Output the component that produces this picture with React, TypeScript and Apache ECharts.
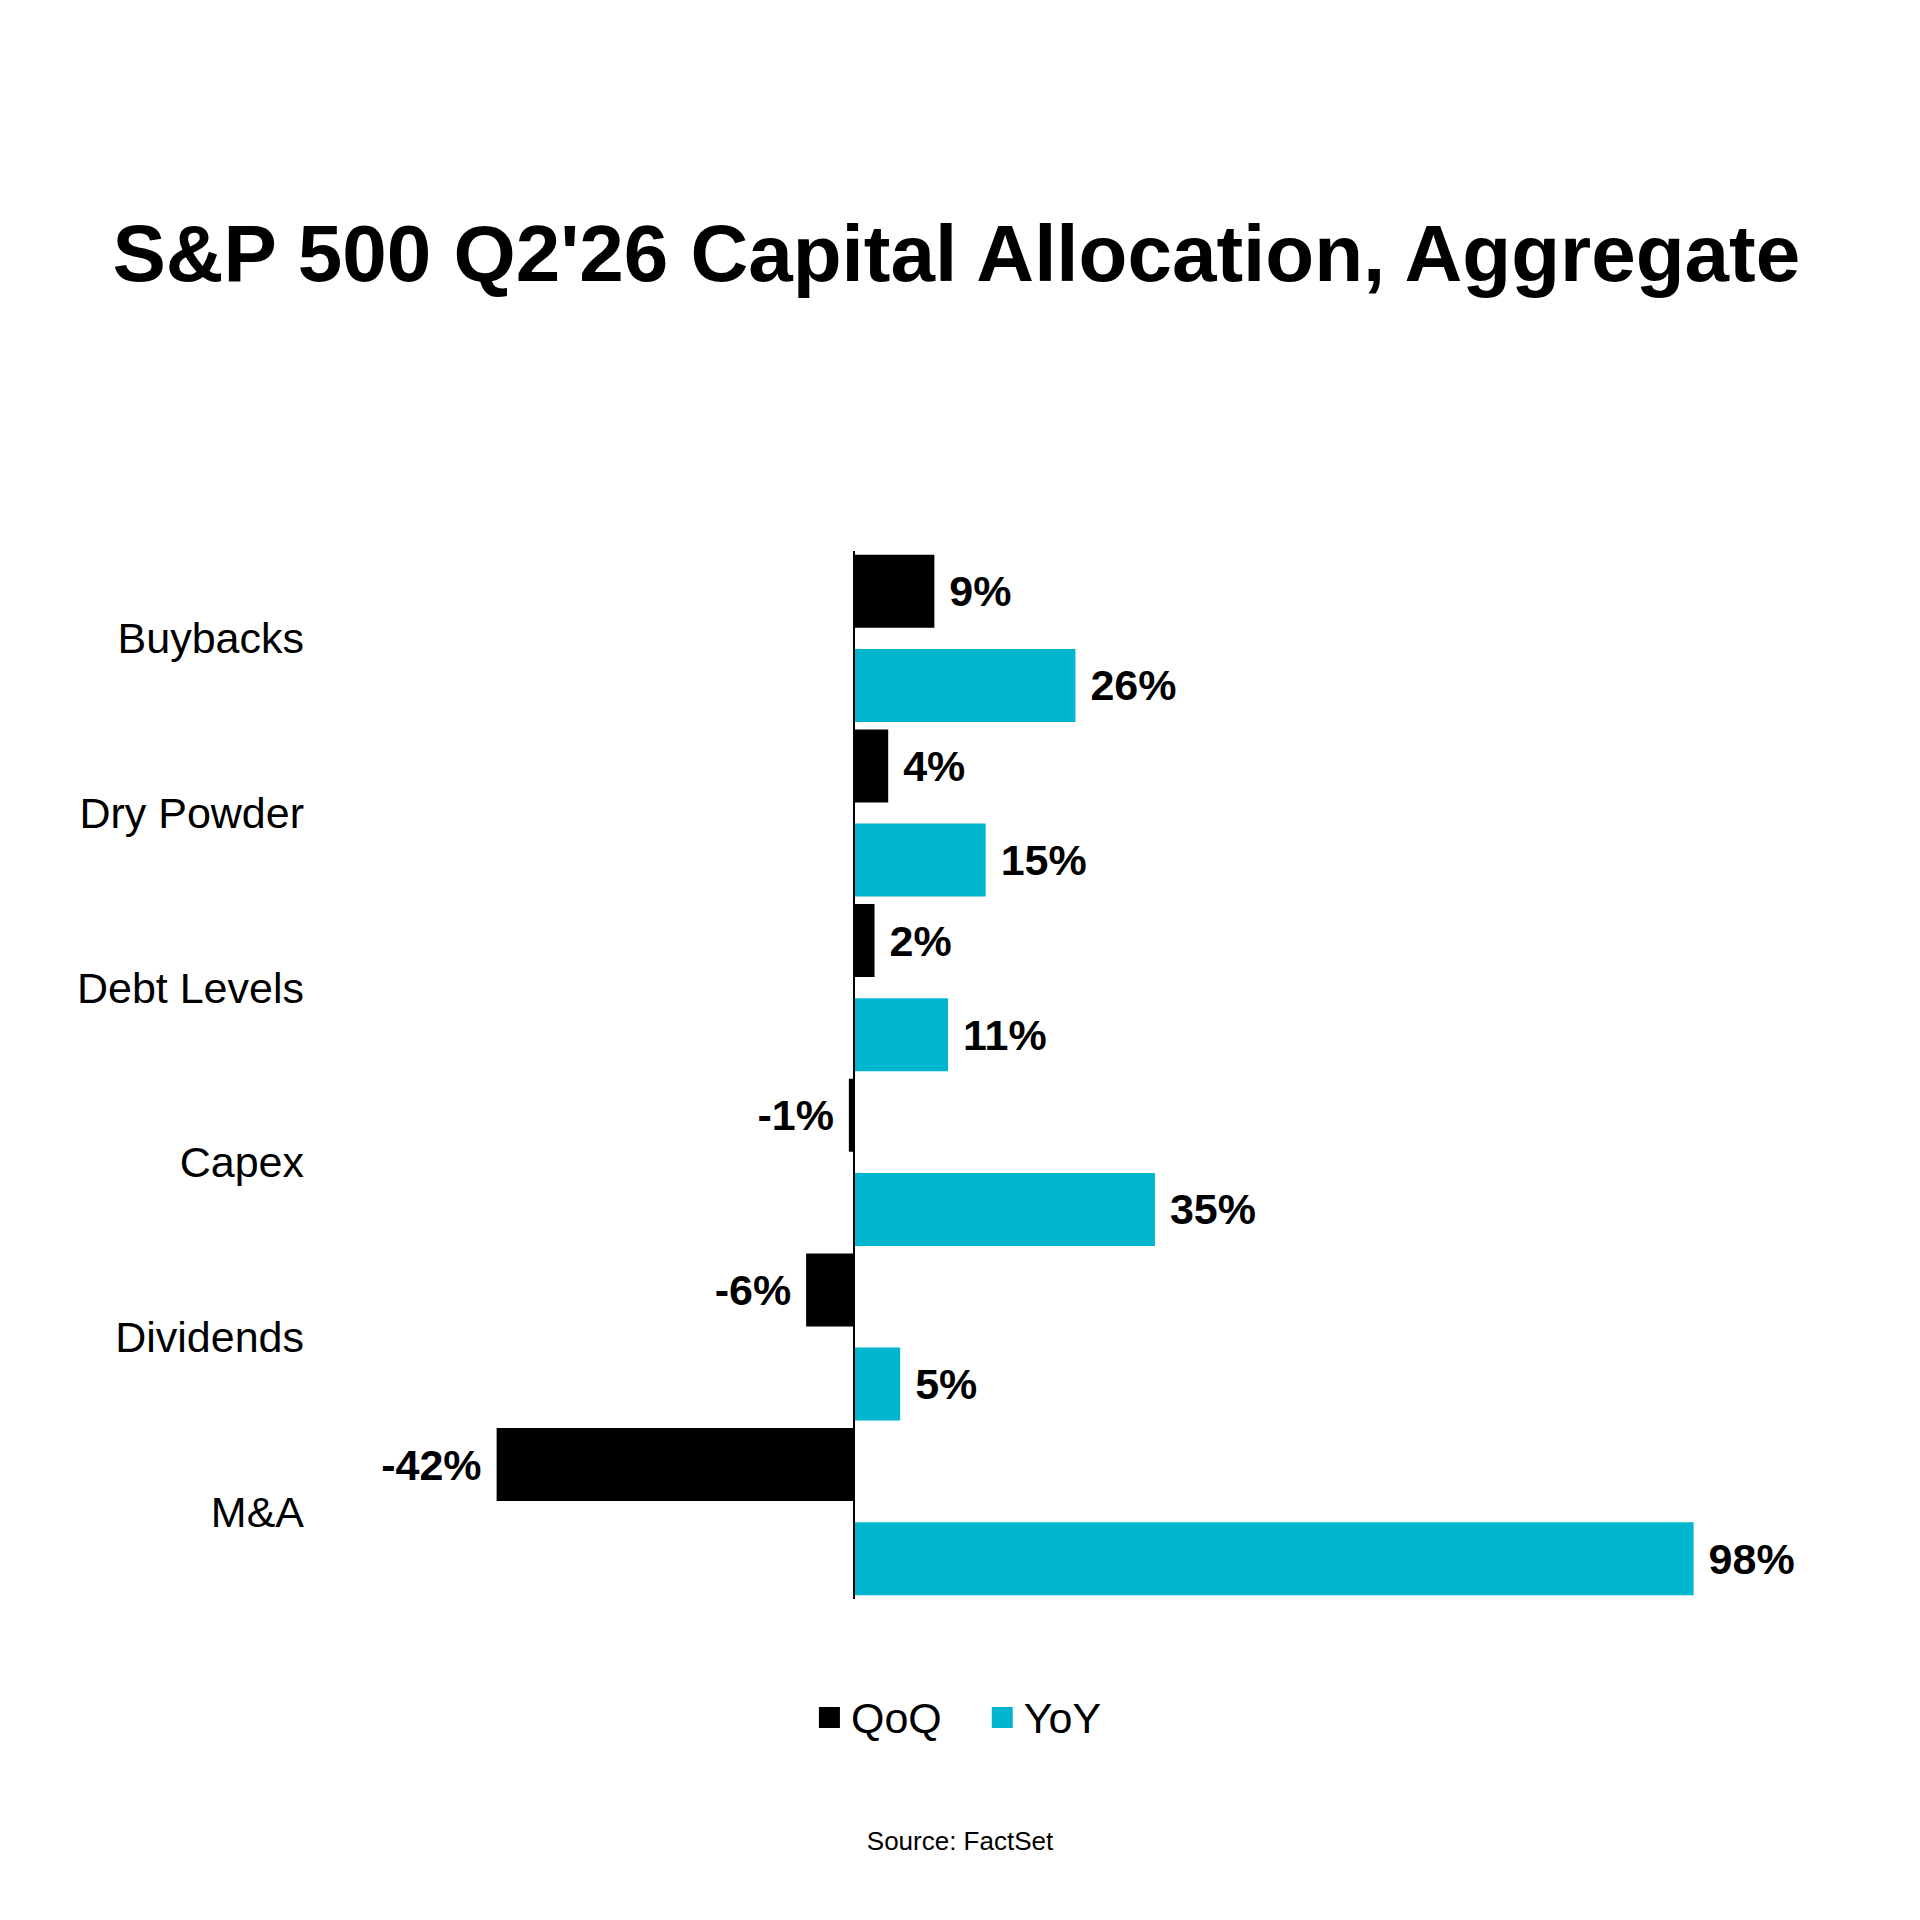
import React, { useEffect, useRef } from "react";
import * as echarts from "echarts";

const categories = ["Buybacks", "Dry Powder", "Debt Levels", "Capex", "Dividends", "M&A"];
const qoqValues = [9.4, 4.0, 2.4, -0.6, -5.6, -41.8];
const yoyValues = [25.9, 15.4, 11.0, 35.2, 5.4, 98.2];
const seriesNames = ["QoQ", "YoY"];
const titleText = "S&P 500 Q2'26 Capital Allocation, Aggregate";
const sourceText = "Source: FactSet";

const FONT = "'Liberation Sans', Arial, Helvetica, sans-serif";
const BLACK = "#000000";
const CYAN = "#00B6CE";

function labelFor(v: number) {
  return {
    show: true,
    position: v < 0 ? "left" : "right",
    distance: 15,
    color: "#000",
    fontFamily: FONT,
    fontWeight: "bold",
    fontSize: 43,
    formatter: (p: any) => `${Math.round(p.value)}%`,
  };
}

export default function App() {
  const ref = useRef<HTMLDivElement>(null);
  useEffect(() => {
    document.body.style.margin = "0";
    if (!ref.current) return;
    const chart = echarts.init(ref.current, undefined, { renderer: "svg" });
    chart.setOption({
      animation: false,
      backgroundColor: "#ffffff",
      textStyle: { fontFamily: FONT },
      graphic: [
        {
          type: "text",
          left: "center",
          top: 213,
          style: {
            text: titleText,
            font: `bold 80px ${FONT}`,
            fill: "#000",
          },
        },
        {
          type: "text",
          left: "center",
          top: 1828,
          style: {
            text: sourceText,
            font: `26px ${FONT}`,
            fill: "#000",
          },
        },
      ],
      legend: {
        data: seriesNames,
        left: "center",
        top: 1691,
        icon: "rect",
        itemWidth: 21,
        itemHeight: 21,
        itemGap: 50,
        textStyle: {
          fontSize: 43,
          color: "#000",
          fontFamily: FONT,
          padding: [0, 0, 0, 6],
        },
      },
      grid: {
        left: 341,
        right: 211,
        top: 551,
        bottom: 321,
        containLabel: false,
      },
      xAxis: {
        type: "value",
        min: -60,
        max: 100,
        show: false,
        splitLine: { show: false },
      },
      yAxis: {
        type: "category",
        data: categories,
        inverse: true,
        axisLine: { show: false, onZero: false },
        axisTick: { show: false },
        axisLabel: {
          margin: 37,
          fontSize: 43,
          color: "#000",
          fontFamily: FONT,
        },
      },
      series: [
        {
          name: seriesNames[0],
          type: "bar",
          barWidth: 73,
          barGap: "29%",
          itemStyle: { color: BLACK },
          data: qoqValues.map((v) => ({ value: v, label: labelFor(v) })),
          markLine: {
            silent: true,
            symbol: "none",
            label: { show: false },
            lineStyle: { color: "#000", width: 2, type: "solid" },
            data: [{ xAxis: 0 }],
          },
        },
        {
          name: seriesNames[1],
          type: "bar",
          barWidth: 73,
          barGap: "29%",
          itemStyle: { color: CYAN },
          data: yoyValues.map((v) => ({ value: v, label: labelFor(v) })),
        },
      ],
    });
    return () => chart.dispose();
  }, []);
  return <div ref={ref} style={{ width: 1920, height: 1920 }} />;
}
